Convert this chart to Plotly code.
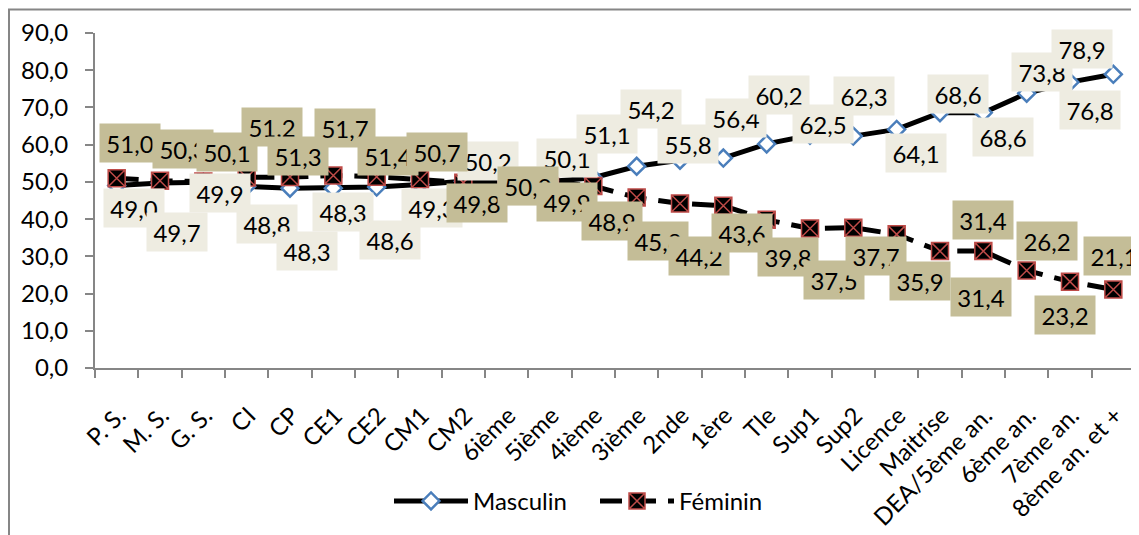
import plotly.graph_objects as go

categories = ["P. S.", "M. S.", "G. S.", "CI", "CP", "CE1", "CE2", "CM1", "CM2",
              "6ième", "5ième", "4ième", "3ième", "2nde", "1ère", "Tle", "Sup1",
              "Sup2", "Licence", "Maitrise", "DEA/5ème an.", "6ème an.",
              "7ème an.", "8ème an. et +"]
masculin = [49.0, 49.7, 49.9, 48.8, 48.3, 48.3, 48.6, 49.3, 50.2, 50.0, 50.1, 51.1,
            54.2, 55.8, 56.4, 60.2, 62.5, 62.3, 64.1, 68.6, 68.6, 73.8, 76.8, 78.9]
feminin = [51.0, 50.3, 50.1, 51.2, 51.3, 51.7, 51.4, 50.7, 49.8, 50.0, 49.9, 48.9,
           45.8, 44.2, 43.6, 39.8, 37.5, 37.7, 35.9, 31.4, 31.4, 26.2, 23.2, 21.1]
y_ticks = [0, 10, 20, 30, 40, 50, 60, 70, 80, 90]

# label offsets in pixels (dx right, dy down) relative to each point
m_off = [(17, 22), (17, 49), (17, 11), (20, 38), (17, 63), (10, 24), (13, 53), (12, 24),
         (25, -20), (21, 4), (17, -24), (14, -44), (14, -57), (8, -16), (13, -40),
         (12, -49), (13, -11), (11, -40), (19, 24), (18, -19), (20, 24), (15, -21),
         (20, 28), (-31, -25)]
f_off = [(13, -35), (23, -32), (24, -30), (25, -50), (8, -21), (12, -48), (11, -21),
         (17, -27), (14, 20), (21, 4), (17, 20), (19, 35), (21, 43), (19, 53), (19, 27),
         (21, 37), (24, 52), (23, 28), (23, 47), (43, -31), (-2, 46), (20, -29),
         (-5, 33), (1, -33)]

FONT = "Lato, 'Open Sans', sans-serif"
AXIS_GRAY = "#868686"

fig = go.Figure()
fig.add_trace(go.Scatter(
    x=categories, y=masculin, name="Masculin", mode="lines+markers",
    line=dict(color="black", width=5),
    marker=dict(symbol="diamond", size=13, color="white",
                line=dict(color="#4A7EBB", width=2.5)),
))
fig.add_trace(go.Scatter(
    x=categories, y=feminin, name="Féminin", mode="lines+markers",
    line=dict(color="black", width=5, dash="22px,12px"),
    marker=dict(symbol="square-x", size=17, color="black",
                line=dict(color="#BE4B48", width=1.5)),
))

def fmt(v):
    return f"{v:.1f}".replace(".", ",")

annotations = []
for series, offs, bg in ((masculin, m_off, "#EEECE1"), (feminin, f_off, "#C4BD97")):
    for c, v, (dx, dy) in zip(categories, series, offs):
        annotations.append(dict(
            x=c, y=v, xref="x", yref="y", text=fmt(v), showarrow=False,
            xshift=dx, yshift=-dy, bgcolor=bg, borderpad=4, width=52, height=30,
            font=dict(family=FONT, size=24, color="black"),
        ))

# page body has an 8px margin, so the figure is 8px smaller on each side
fig.update_layout(
    width=1131, height=527,
    margin=dict(l=87, r=4, t=24.5, b=166.7, autoexpand=False),
    paper_bgcolor="white", plot_bgcolor="white",
    separators=", ",
    font=dict(family=FONT, size=24, color="black"),
    showlegend=True,
    legend=dict(orientation="h", x=0.2827, xanchor="left", y=-0.398, yanchor="middle",
                font=dict(family=FONT, size=24, color="black"),
                bgcolor="rgba(0,0,0,0)", itemwidth=74,
                entrywidth=117, entrywidthmode="pixels"),
    annotations=annotations,
    shapes=[dict(type="rect", xref="paper", yref="paper",
                 x0=-0.0827, x1=1.2, y0=-0.8, y1=1.070,
                 line=dict(color=AXIS_GRAY, width=2), layer="below")],
)
fig.update_xaxes(
    type="category", range=[-0.5, len(categories) - 0.5], automargin=False,
    showline=True, linecolor=AXIS_GRAY, linewidth=2,
    ticks="outside", tickson="boundaries", ticklen=8, tickcolor=AXIS_GRAY, tickwidth=2,
    tickangle=-45, showgrid=False, zeroline=False,
    ticklabelstandoff=22, ticklabelshift=2,
    tickfont=dict(family=FONT, size=24, color="black"),
)
fig.update_yaxes(
    range=[0, 90], tickvals=y_ticks, tickformat=".1f", automargin=False,
    showline=True, linecolor=AXIS_GRAY, linewidth=2,
    ticks="outside", ticklen=8, tickcolor=AXIS_GRAY, tickwidth=2,
    showgrid=False, zeroline=False, ticklabelstandoff=12,
    tickfont=dict(family=FONT, size=24, color="black"),
)

fig.write_html("out.html")
